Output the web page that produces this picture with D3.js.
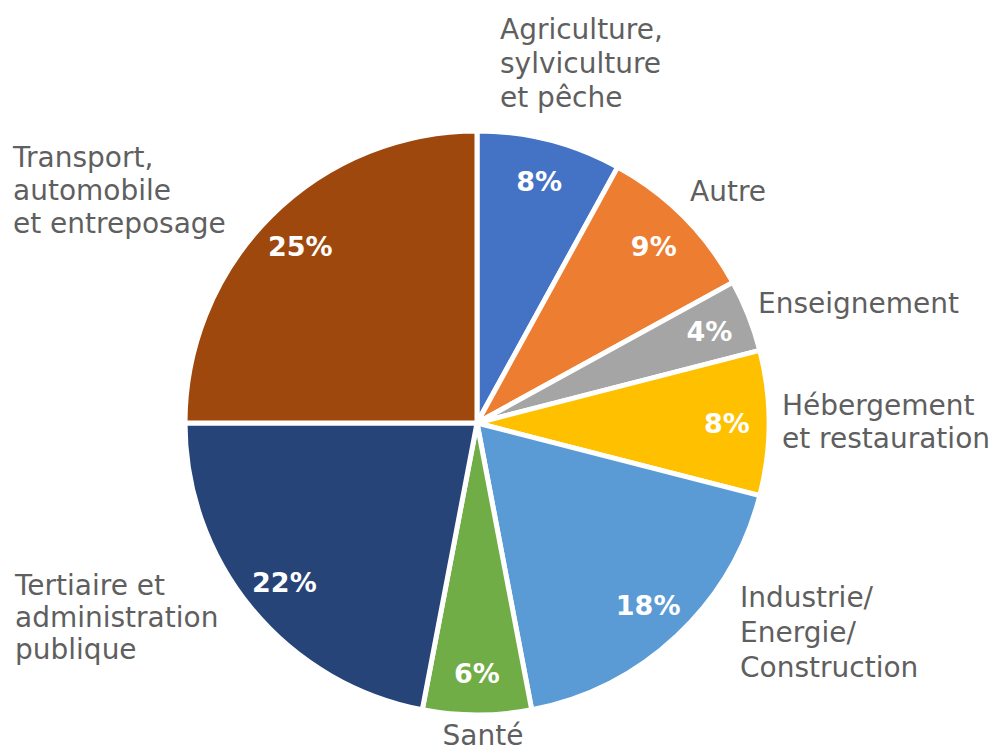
<!DOCTYPE html>
<html>
<head>
<meta charset="utf-8">
<script src="https://cdn.jsdelivr.net/npm/d3@7"></script>
<style>
  body { margin: 0; background: #fff; }
  svg { display: block; }
</style>
</head>
<body>
<svg id="chart" width="996" height="753"></svg>
<script>
const categories = [
  'Agriculture, sylviculture et pêche',
  'Autre',
  'Enseignement',
  'Hébergement et restauration',
  'Industrie/ Energie/ Construction',
  'Santé',
  'Tertiaire et administration publique',
  'Transport, automobile et entreposage',
];
const values = [8, 9, 4, 8, 18, 6, 22, 25];
const labelLines = [
  ['Agriculture,', 'sylviculture', 'et pêche'],
  ['Autre'],
  ['Enseignement'],
  ['Hébergement', 'et restauration'],
  ['Industrie/', 'Energie/', 'Construction'],
  ['Santé'],
  ['Tertiaire et', 'administration', 'publique'],
  ['Transport,', 'automobile', 'et entreposage'],
];
const colors = ['#4472C4', '#ED7D31', '#A5A5A5', '#FFC000', '#5B9BD5', '#70AD47', '#264478', '#9E480E'];

// where each outer label sits (first baseline), relative to the pie centre
const labelPlace = [
  { x: 23, y: -384, anchor: 'start' },
  { x: 213, y: -222, anchor: 'start' },
  { x: 281, y: -110, anchor: 'start' },
  { x: 305, y: -8, anchor: 'start' },
  { x: 263, y: 184, anchor: 'start' },
  { x: 6, y: 322, anchor: 'middle' },
  { x: -462, y: 172, anchor: 'start' },
  { x: -464, y: -256, anchor: 'start' },
];
const lineGap = [34, 0, 0, 33, 35, 0, 32, 33];

const cx = 477, cy = 423, radius = 292;
const data = categories.map((c, i) => ({ cat: c, value: values[i], i }));

const svg = d3.select('#chart');
const g = svg.append('g').attr('transform', `translate(${cx},${cy})`);

const pie = d3.pie().value(d => d.value).sort(null);
const arc = d3.arc().innerRadius(0).outerRadius(radius);
const labelArc = d3.arc().innerRadius(250).outerRadius(250);

const arcs = pie(data);

g.selectAll('path.slice')
  .data(arcs)
  .enter()
  .append('path')
  .attr('class', 'slice')
  .attr('d', arc)
  .attr('fill', d => colors[d.data.i])
  .attr('stroke', '#fff')
  .attr('stroke-width', 5)
  .attr('stroke-linejoin', 'round');

g.selectAll('text.pct')
  .data(arcs)
  .enter()
  .append('text')
  .attr('class', 'pct')
  .attr('transform', d => `translate(${labelArc.centroid(d)})`)
  .attr('text-anchor', 'middle')
  .attr('dy', '0.36em')
  .attr('font-family', 'DejaVu Sans, sans-serif')
  .attr('font-weight', 'bold')
  .attr('font-size', '27px')
  .attr('fill', '#fff')
  .text(d => d.data.value + '%');

const outer = g.selectAll('text.cat')
  .data(arcs)
  .enter()
  .append('text')
  .attr('class', 'cat')
  .attr('x', d => labelPlace[d.data.i].x)
  .attr('y', d => labelPlace[d.data.i].y)
  .attr('text-anchor', d => labelPlace[d.data.i].anchor)
  .attr('font-family', 'DejaVu Sans, sans-serif')
  .attr('font-size', '28px')
  .attr('fill', '#5f5f5f');

outer.each(function (d) {
  const t = d3.select(this);
  const p = labelPlace[d.data.i];
  labelLines[d.data.i].forEach((line, k) => {
    t.append('tspan')
      .attr('x', p.x)
      .attr('dy', k === 0 ? 0 : lineGap[d.data.i])
      .text(line);
  });
});
</script>
</body>
</html>
